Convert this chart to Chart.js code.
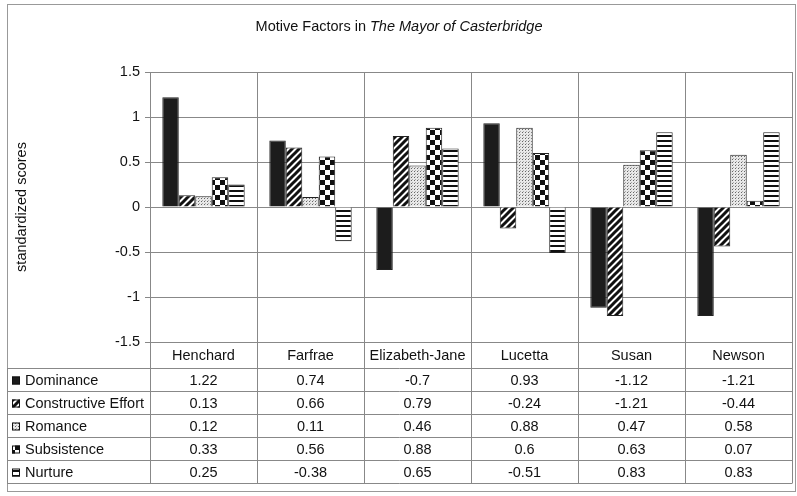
<!DOCTYPE html>
<html>
<head>
<meta charset="utf-8">
<script src="https://cdn.jsdelivr.net/npm/chart.js@4"></script>
<style>
  body { margin: 0; background: #fff; }
  #wrap { width: 797px; height: 496px; }
</style>
</head>
<body>
<div id="wrap"><canvas id="motives" width="797" height="496"></canvas></div>
<script>
var categories = ["Henchard", "Farfrae", "Elizabeth-Jane", "Lucetta", "Susan", "Newson"];
var seriesNames = ["Dominance", "Constructive Effort", "Romance", "Subsistence", "Nurture"];
var dominance = [1.22, 0.74, -0.7, 0.93, -1.12, -1.21];
var constructive = [0.13, 0.66, 0.79, -0.24, -1.21, -0.44];
var romance = [0.12, 0.11, 0.46, 0.88, 0.47, 0.58];
var subsistence = [0.33, 0.56, 0.88, 0.6, 0.63, 0.07];
var nurture = [0.25, -0.38, 0.65, -0.51, 0.83, 0.83];

var FONT = "'Liberation Sans', Arial, sans-serif";
var FS = 14.5;

// little canvases used as fill patterns (black and white print look)
function makePattern(w, h, draw) {
    var c = document.createElement("canvas");
    c.width = w; c.height = h;
    var g = c.getContext("2d");
    g.fillStyle = "#fff";
    g.fillRect(0, 0, w, h);
    g.fillStyle = "#111";
    g.strokeStyle = "#111";
    draw(g);
    return g.createPattern(c, "repeat");
}

var solid = "#1c1c1c";
var diagonal = makePattern(7, 7, function (g) {
    g.lineWidth = 3;
    g.beginPath();
    g.moveTo(-1, 8); g.lineTo(8, -1);
    g.moveTo(-4, 4); g.lineTo(4, -4);
    g.moveTo(3, 11); g.lineTo(11, 3);
    g.stroke();
});
var dots = makePattern(3, 3, function (g) {
    g.fillStyle = "#e8e8e8";
    g.fillRect(0, 0, 3, 3);
    g.fillStyle = "#666";
    g.fillRect(0, 0, 1, 1);
    g.fillStyle = "#aaa";
    g.fillRect(1, 2, 1, 1);
});
var checker = makePattern(10, 10, function (g) {
    g.fillRect(0, 0, 5, 5);
    g.fillRect(5, 5, 5, 5);
});
var hstripes = makePattern(5, 5, function (g) {
    g.fillRect(0, 0, 5, 2);
});

var fills = [solid, diagonal, dots, checker, hstripes];
var values = [dominance, constructive, romance, subsistence, nurture];

var tableTop = 368;
var rowH = 23;

var tablePlugin = {
    id: "dataTable",
    afterDraw: function (chart) {
        var ctx = chart.ctx;
        var x = chart.scales.x;
        var area = chart.chartArea;
        ctx.save();

        // frame around the whole chart
        ctx.strokeStyle = "#999";
        ctx.lineWidth = 1;
        ctx.strokeRect(7.5, 4.5, 788, 487);

        // title with italic book name
        ctx.fillStyle = "#111";
        ctx.textBaseline = "middle";
        var t1 = "Motive Factors in ";
        var t2 = "The Mayor of Casterbridge";
        ctx.font = FS + "px " + FONT;
        var w1 = ctx.measureText(t1).width;
        ctx.font = "italic " + FS + "px " + FONT;
        var w2 = ctx.measureText(t2).width;
        var sx = 399 - (w1 + w2) / 2;
        ctx.textAlign = "left";
        ctx.font = FS + "px " + FONT;
        ctx.fillText(t1, sx, 27);
        ctx.font = "italic " + FS + "px " + FONT;
        ctx.fillText(t2, sx + w1, 27);

        // y axis title
        ctx.save();
        ctx.translate(22, (area.top + area.bottom) / 2);
        ctx.rotate(-Math.PI / 2);
        ctx.textAlign = "center";
        ctx.font = FS + "px " + FONT;
        ctx.fillText("standardized scores", 0, 0);
        ctx.restore();

        // column lines through the header and table
        var bottom = tableTop + rowH * seriesNames.length;
        ctx.strokeStyle = "#888";
        ctx.beginPath();
        var half = (x.getPixelForValue(1) - x.getPixelForValue(0)) / 2;
        for (var i = 0; i <= categories.length; i++) {
            var px = Math.round(x.getPixelForValue(i) - half) + 0.5;
            ctx.moveTo(px, area.bottom);
            ctx.lineTo(px, bottom);
        }
        for (var r = 0; r <= seriesNames.length; r++) {
            var py = tableTop + r * rowH + 0.5;
            ctx.moveTo(7, py);
            ctx.lineTo(Math.round(area.right) + 0.5, py);
        }
        ctx.moveTo(7.5, tableTop);
        ctx.lineTo(7.5, bottom);
        ctx.stroke();

        // category labels
        ctx.textAlign = "center";
        ctx.font = FS + "px " + FONT;
        ctx.fillStyle = "#111";
        categories.forEach(function (c, i) {
            ctx.fillText(c, x.getPixelForValue(i), (area.bottom + tableTop) / 2 + 1);
        });

        // rows
        seriesNames.forEach(function (name, r) {
            var cy = tableTop + r * rowH + rowH / 2 + 1;
            ctx.fillStyle = fills[r];
            ctx.fillRect(12, cy - 4, 8, 8);
            ctx.strokeStyle = "#111";
            ctx.strokeRect(12.5, cy - 3.5, 7, 7);
            ctx.fillStyle = "#111";
            ctx.textAlign = "left";
            ctx.fillText(name, 25, cy);
            ctx.textAlign = "center";
            values[r].forEach(function (v, i) {
                ctx.fillText(String(v), x.getPixelForValue(i), cy);
            });
        });
        ctx.restore();
    }
};

new Chart("motives", {
    type: "bar",
    data: {
        labels: categories,
        datasets: seriesNames.map(function (name, i) {
            return {
                label: name,
                data: values[i],
                backgroundColor: fills[i],
                borderColor: "#222",
                borderWidth: 1,
                barPercentage: 1.0,
                categoryPercentage: 0.77
            };
        })
    },
    options: {
        responsive: false,
        animation: false,
        layout: { padding: { left: 7, top: 72, right: 5, bottom: 154 } },
        plugins: {
            legend: { display: false },
            title: { display: false },
            tooltip: { enabled: false }
        },
        scales: {
            x: {
                grid: { offset: true, color: "#888", drawTicks: false },
                border: { color: "#888" },
                ticks: { display: false },
                afterFit: function (s) { s.height = 0; }
            },
            y: {
                min: -1.5,
                max: 1.5,
                ticks: {
                    stepSize: 0.5,
                    color: "#111",
                    padding: 5,
                    font: { family: FONT, size: FS },
                    callback: function (v) { return String(Math.round(v * 10) / 10); }
                },
                grid: { color: "#888", tickLength: 5 },
                border: { color: "#888" },
                afterFit: function (s) { s.width = 143; }
            }
        }
    },
    plugins: [tablePlugin]
});
</script>
</body>
</html>
